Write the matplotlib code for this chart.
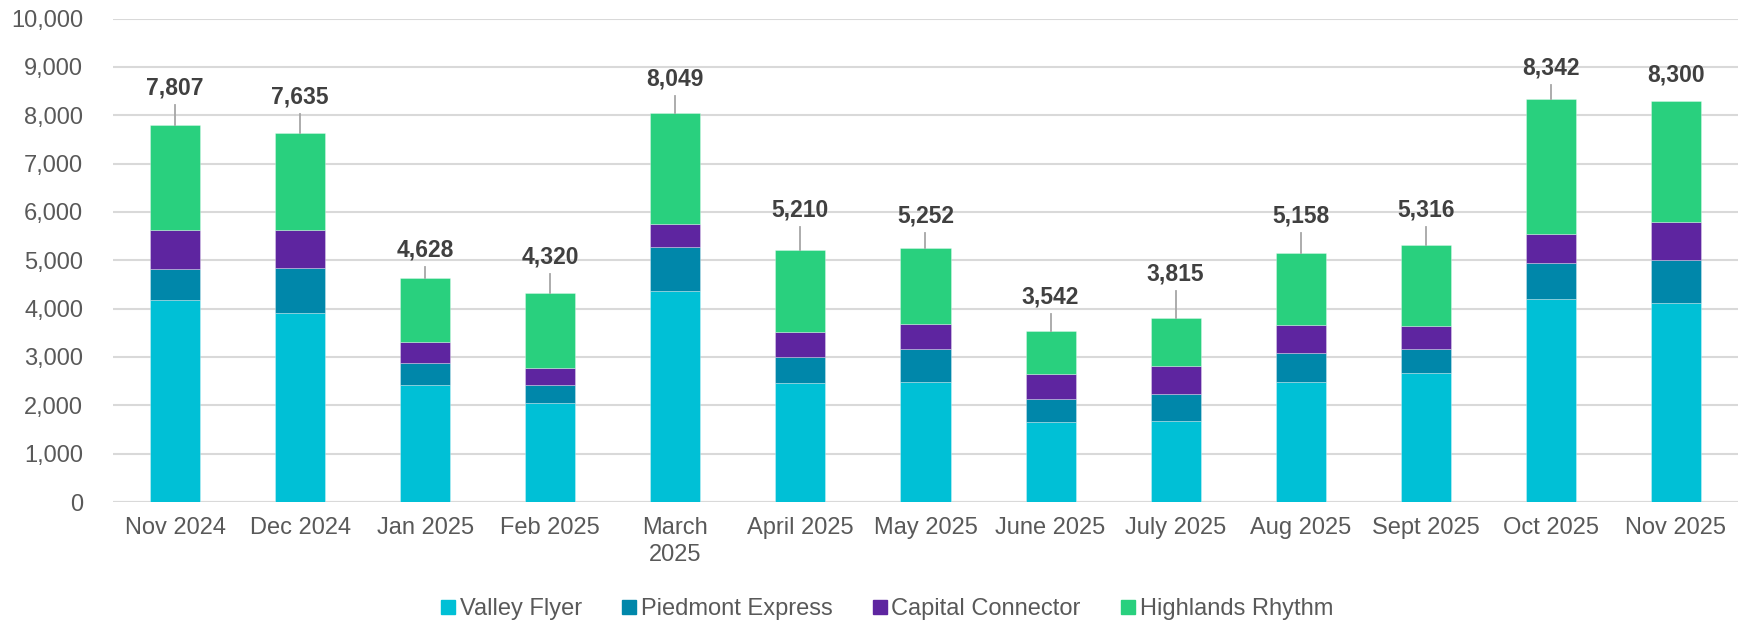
import matplotlib
matplotlib.use("Agg")
import matplotlib.pyplot as plt
from matplotlib.lines import Line2D
from matplotlib.ticker import FuncFormatter, MultipleLocator

plt.rcParams['font.family'] = ['Liberation Sans', 'DejaVu Sans']

# ---- data ----
months = ["Nov 2024", "Dec 2024", "Jan 2025", "Feb 2025", "March\n2025", "April 2025",
          "May 2025", "June 2025", "July 2025", "Aug 2025", "Sept 2025", "Oct 2025", "Nov 2025"]
valley_flyer = [4170, 3910, 2430, 2040, 4370, 2470, 2480, 1650, 1670, 2480, 2665, 4190, 4110]
piedmont_express = [650, 940, 450, 380, 910, 520, 690, 485, 570, 610, 490, 755, 905]
capital_connector = [800, 780, 430, 350, 480, 520, 510, 505, 580, 570, 480, 590, 770]
totals = [7807, 7635, 4628, 4320, 8049, 5210, 5252, 3542, 3815, 5158, 5316, 8342, 8300]
highlands_rhythm = [t - v - p - c for t, v, p, c in
                    zip(totals, valley_flyer, piedmont_express, capital_connector)]
series_names = ["Valley Flyer", "Piedmont Express", "Capital Connector", "Highlands Rhythm"]

# label placement (data units above bar top)
label_gap = [750, 735, 585, 742, 700, 830, 670, 694, 900, 765, 724, 625, 540]

colors = ["#00C0D6", "#0087AA", "#5E25A0", "#29D07E"]

fig = plt.figure(figsize=(17.39, 6.23), dpi=100)
ax = fig.add_axes([0.0647, 0.1942, 0.935, 0.7761])

x = list(range(len(months)))
bottom = [0] * len(months)
for vals, col in zip([valley_flyer, piedmont_express, capital_connector, highlands_rhythm], colors):
    ax.bar(x, vals, bottom=bottom, width=0.4, color=col, edgecolor=(1, 1, 1, 0.35),
           linewidth=0.6, zorder=3)
    bottom = [b + v for b, v in zip(bottom, vals)]

ax.set_xlim(-0.5, len(months) - 0.5)
ax.set_ylim(0, 10000)
ax.yaxis.set_major_locator(MultipleLocator(1000))
ax.yaxis.set_major_formatter(FuncFormatter(lambda v, p: f"{int(v):,}"))
ax.grid(axis='y', color='#D9D9D9', linewidth=1.5, zorder=0)
ax.set_axisbelow(True)
for s in ax.spines.values():
    s.set_visible(False)
ax.axhline(0, color='#D9D9D9', linewidth=1.5, zorder=2)

ax.set_xticks(x)
ax.set_xticklabels(months, linespacing=1.3)
ax.tick_params(axis='x', length=0, pad=11, labelsize=17, labelcolor='#595959')
ax.tick_params(axis='y', length=0, pad=21, labelsize=17, labelcolor='#595959')

for xi, t, g in zip(x, totals, label_gap):
    ax.text(xi, t + g, f"{t:,}", ha='center', va='center', fontsize=16.5,
            fontweight='bold', color='#404040', zorder=5)
    if g - 350 > 200:
        ax.plot([xi, xi], [t, t + g - 350], color='#A6A6A6', linewidth=1.3, zorder=4)

handles = [Line2D([0], [0], marker='s', linestyle='none', markersize=9.4,
                  markerfacecolor=c, markeredgecolor=c) for c in colors]
fig.legend(handles, series_names, loc='center', bbox_to_anchor=(0.5095, 0.0217), ncol=4,
           frameon=False, fontsize=17, labelcolor='#595959', handletextpad=0.09,
           columnspacing=1.6, handlelength=0.8, borderpad=0.2)

fig.savefig("out.png", dpi=100)
